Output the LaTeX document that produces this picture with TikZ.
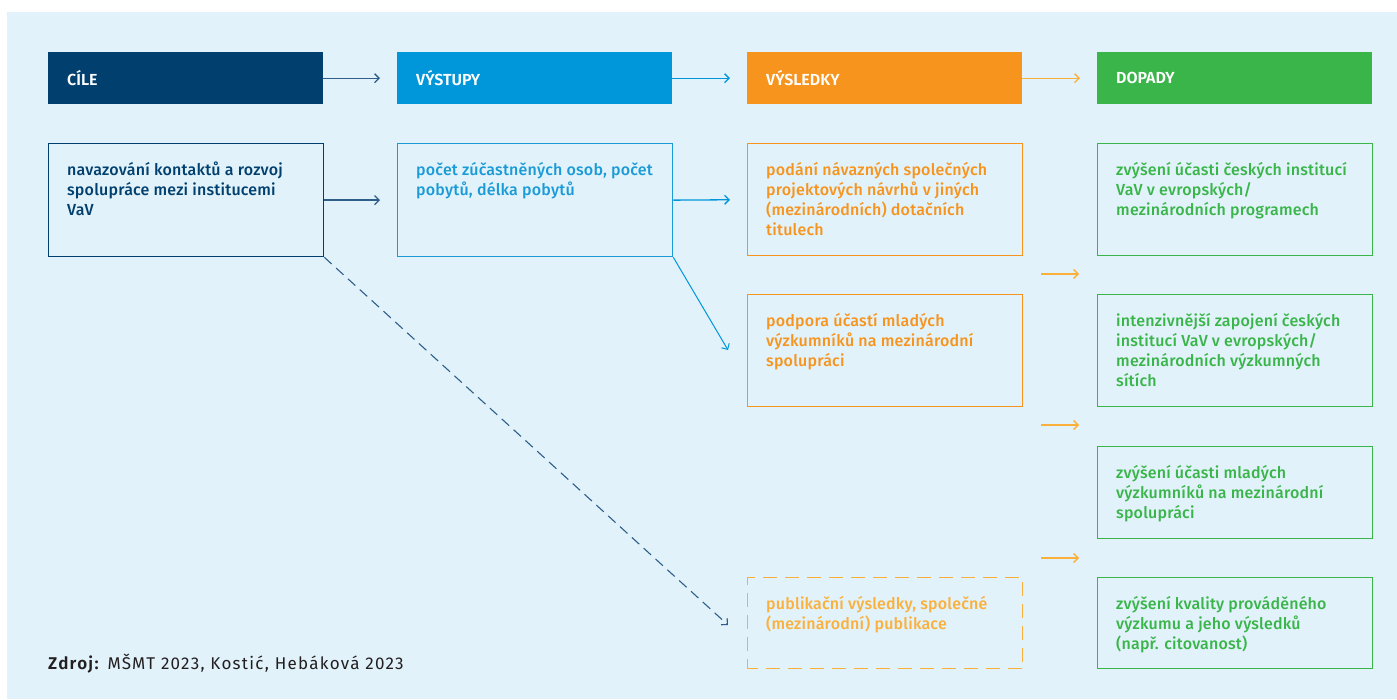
\documentclass[tikz,border=0pt]{standalone}
\usepackage{fontspec}
\setmainfont{Fira Sans}[UprightFont={* Medium}, BoldFont={* SemiBold}]
\newfontfamily\bodyfont{Fira Sans}[UprightFont={* Medium}, LetterSpace=1.2]
\newfontfamily\srcfont{Fira Sans}[BoldFont={* SemiBold}, LetterSpace=7.5]
\usetikzlibrary{arrows.meta,calc}

\definecolor{bgc}{HTML}{E1F2FA}
\definecolor{navy}{HTML}{003F6E}
\definecolor{navyarrow}{HTML}{2D5F8A}
\definecolor{sky}{HTML}{0096DA}
\definecolor{skytext}{HTML}{1A9BD7}
\definecolor{orng}{HTML}{F7941D}
\definecolor{orlight}{HTML}{FBB03B}
\definecolor{grn}{HTML}{3AB54A}
\definecolor{ink}{HTML}{231F20}

\tikzset{
  head/.style={anchor=north west, minimum height=52pt, text width=237pt,
    inner xsep=19pt, inner ysep=0pt, align=left, text=white,
    font=\fontsize{16}{18}\selectfont\bfseries},
  cbox/.style={anchor=north west, minimum width=275pt, inner sep=0pt, line width=1.3pt},
  ctext/.style={anchor=north west, inner sep=0pt, align=left,
    font=\bodyfont\fontsize{16}{20}\selectfont},
  arr/.style={line width=1.3pt, -{Straight Barb[length=4.5pt,width=9pt]}},
}

\begin{document}
\begin{tikzpicture}[x=1pt,y=-1pt]
\useasboundingbox (0,0) rectangle (1397,700);
\fill[white] (0,0) rectangle (1397,700);
\fill[bgc] (7,12) rectangle (1397,699);

% column headers
\node[head, fill=navy]  (h1) at (48,52)   {CÍLE};
\node[head, fill=sky]   (h2) at (397,52)  {VÝSTUPY};
\node[head, fill=orng]  (h3) at (747,52)  {VÝSLEDKY};
\node[head, fill=grn]   (h4) at (1097,52) {DOPADY};

\draw[arr, navyarrow, shorten >=17pt] (h1.east) -- (h2.west);
\draw[arr, sky, shorten >=17pt] (h2.east) -- (h3.west);
\draw[arr, orlight, shorten >=17pt] (h3.east) -- (h4.west);

% goals and outputs
\node[cbox, draw=navy, minimum height=113pt] (b1) at (48,143) {};
\node[ctext, text=navy] (t1) at ($(b1.north west)+(19,18)$)
  {\strut navazování kontaktů a rozvoj\\spolupráce mezi institucemi\\VaV};

\node[cbox, draw=skytext, minimum height=113pt] (b2) at (397,143) {};
\node[ctext, text=skytext] (t2) at ($(b2.north west)+(19,18)$)
  {\strut počet zúčastněných osob, počet\\pobytů, délka pobytů};

% results
\node[cbox, draw=orng, minimum height=112pt] (r1) at (747,143) {};
\node[ctext, text=orng] (tr1) at ($(r1.north west)+(19,18)$)
  {\strut podání návazných společných\\projektových návrhů v jiných\\(mezinárodních) dotačních\\titulech};

\node[cbox, draw=orng, minimum height=112pt] (r2) at (747,294) {};
\node[ctext, text=orng] (tr2) at ($(r2.north west)+(19,18)$)
  {\strut podpora účastí mladých\\výzkumníků na mezinárodní\\spolupráci};

\node[cbox, draw=orlight, dash pattern=on 14pt off 8pt, dash phase=4pt, minimum height=91pt] (r3) at (747,577) {};
\node[ctext, text=orlight] (tr3) at ($(r3.north west)+(19,18)$)
  {\strut publikační výsledky, společné\\(mezinárodní) publikace};

% impacts
\node[cbox, draw=grn, minimum height=112pt] (d1) at (1097,143) {};
\node[ctext, text=grn] (td1) at ($(d1.north west)+(19,18)$)
  {\strut zvýšení účasti českých institucí\\VaV v evropských/\\mezinárodních programech};

\node[cbox, draw=grn, minimum height=112pt] (d2) at (1097,294) {};
\node[ctext, text=grn] (td2) at ($(d2.north west)+(19,18)$)
  {\strut intenzivnější zapojení českých\\institucí VaV v evropských/\\mezinárodních výzkumných\\sítích};

\node[cbox, draw=grn, minimum height=92pt] (d3) at (1097,446) {};
\node[ctext, text=grn] (td3) at ($(d3.north west)+(19,18)$)
  {\strut zvýšení účasti mladých\\výzkumníků na mezinárodní\\spolupráci};

\node[cbox, draw=grn, minimum height=91pt] (d4) at (1097,577) {};
\node[ctext, text=grn] (td4) at ($(d4.north west)+(19,18)$)
  {\strut zvýšení kvality prováděného\\výzkumu a jeho výsledků\\(např. citovanost)};

% connectors between boxes
\draw[arr, navyarrow, shorten >=17pt] (b1.east) -- (b2.west);
\draw[arr, sky, shorten >=17pt] (b2.east) -- (r1.west);

\coordinate (p2) at (728,350);
\draw[arr, sky, line width=1pt] (b2.south east) -- (p2);

\coordinate (p3) at (728,625);
\draw[arr, navyarrow, line width=1.1pt, dash pattern=on 10pt off 6pt] (b1.south east) -- (p3);

% arrows from results to impacts
\coordinate (a1s) at (1041,274); \coordinate (a1e) at (1079,274);
\coordinate (a2s) at (1041,425); \coordinate (a2e) at (1079,425);
\coordinate (a3s) at (1041,558); \coordinate (a3e) at (1079,558);
\draw[arr, orlight] (a1s) -- (a1e);
\draw[arr, orlight] (a2s) -- (a2e);
\draw[arr, orlight] (a3s) -- (a3e);

% source
\node[anchor=base west, inner sep=0pt, text=ink, font=\srcfont\fontsize{17}{20}\selectfont] (src) at (48,669)
  {\textbf{Zdroj:} MŠMT 2023, Kostić, Hebáková 2023};
\end{tikzpicture}
\end{document}
